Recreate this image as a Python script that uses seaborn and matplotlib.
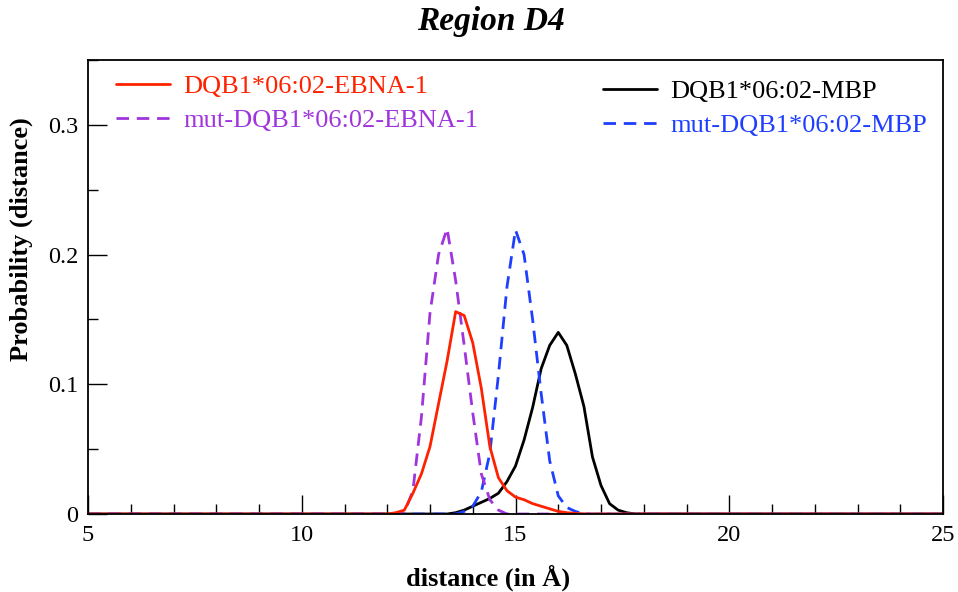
import matplotlib
matplotlib.use("Agg")
import matplotlib.pyplot as plt
import seaborn as sns
import pandas as pd
from matplotlib.ticker import MultipleLocator, FormatStrFormatter

# distance histogram bins (Å); end points carry the flat zero baseline
distance = [5.0,
            12.0, 12.2, 12.4, 12.6, 12.8, 13.0, 13.2, 13.4, 13.6, 13.8,
            14.0, 14.2, 14.4, 14.6, 14.8, 15.0, 15.2, 15.4, 15.6, 15.8,
            16.0, 16.2, 16.4, 16.6, 16.8, 17.0, 17.2, 17.4, 17.6, 17.8,
            25.0]

ebna = [0.0,
        0.0, 0.001, 0.003, 0.016, 0.031, 0.052, 0.085, 0.118, 0.156, 0.153,
        0.132, 0.097, 0.052, 0.028, 0.018, 0.013, 0.011, 0.008, 0.006, 0.004,
        0.002, 0.001, 0.0005, 0.0, 0.0, 0.0, 0.0, 0.0, 0.0, 0.0,
        0.0]

mut_ebna = [0.0,
            0.0, 0.0, 0.001, 0.018, 0.075, 0.155, 0.200, 0.220, 0.180, 0.130,
            0.078, 0.031, 0.011, 0.003, 0.0, 0.0, 0.0, 0.0, 0.0, 0.0,
            0.0, 0.0, 0.0, 0.0, 0.0, 0.0, 0.0, 0.0, 0.0, 0.0,
            0.0]

mbp = [0.0,
       0.0, 0.0, 0.0, 0.0, 0.0, 0.0, 0.0, 0.0, 0.001, 0.003,
       0.006, 0.009, 0.012, 0.016, 0.025, 0.037, 0.057, 0.082, 0.112, 0.130,
       0.140, 0.130, 0.108, 0.083, 0.044, 0.022, 0.008, 0.003, 0.001, 0.0,
       0.0]

mut_mbp = [0.0,
           0.0, 0.0, 0.0, 0.0, 0.0, 0.0, 0.0, 0.0, 0.0, 0.002,
           0.006, 0.017, 0.047, 0.107, 0.175, 0.219, 0.200, 0.150, 0.093, 0.041,
           0.014, 0.005, 0.002, 0.0, 0.0, 0.0, 0.0, 0.0, 0.0, 0.0,
           0.0]

labels = ["DQB1*06:02-EBNA-1", "mut-DQB1*06:02-EBNA-1",
          "DQB1*06:02-MBP", "mut-DQB1*06:02-MBP"]
colors = ["#ff2200", "#a035dd", "#000000", "#1f3fff"]

sns.set_theme(style="white")
plt.rcParams["font.family"] = ["Liberation Serif", "DejaVu Serif"]
plt.rcParams["text.color"] = "black"
plt.rcParams["axes.labelcolor"] = "black"

fig = plt.figure(figsize=(9.58, 5.92), dpi=100)
ax = fig.add_axes([88 / 958, 1 - 514 / 592, 855 / 958, 454 / 592])

series = {labels[0]: ebna, labels[1]: mut_ebna, labels[2]: mbp, labels[3]: mut_mbp}
styles = {labels[0]: "", labels[1]: (4.5, 2.8), labels[2]: "", labels[3]: (4.5, 2.8)}
order = [labels[2], labels[3], labels[1], labels[0]]
lines = {}
for name in order:
    df = pd.DataFrame({"distance": distance, "prob": series[name]})
    sns.lineplot(data=df, x="distance", y="prob", ax=ax, sort=False,
                 color=colors[labels.index(name)], linewidth=2.0,
                 dashes=False, legend=False)
    ln = ax.get_lines()[-1]
    if styles[name]:
        ln.set_dashes(styles[name])
    lines[name] = ln

ax.set_xlim(5, 25)
ax.set_ylim(0, 0.35)
ax.xaxis.set_major_locator(MultipleLocator(5))
ax.xaxis.set_minor_locator(MultipleLocator(1))
ax.yaxis.set_major_locator(MultipleLocator(0.1))
ax.yaxis.set_minor_locator(MultipleLocator(0.05))
ax.yaxis.set_major_formatter(FormatStrFormatter("%g"))
ax.xaxis.set_major_formatter(FormatStrFormatter("%g"))
ax.tick_params(which="both", direction="in", colors="black", labelsize=17.5,
               bottom=True, left=True, top=False, right=False)
ax.tick_params(which="major", length=14, width=1.0)
ax.tick_params(which="minor", length=7, width=1.0)
ax.tick_params(axis="x", pad=8)
ax.tick_params(axis="y", pad=7)
for sp in ax.spines.values():
    sp.set_color("black")
    sp.set_linewidth(1.3)

ax.set_xlabel("distance (in Å)", fontsize=19, fontweight="bold")
ax.set_ylabel("Probability (distance)", fontsize=19, fontweight="bold")
ax.xaxis.set_label_coords(0.468, -0.112)
ax.yaxis.set_label_coords(-0.064, 0.606)

fig.text(491 / 958, 1 - 30 / 592, "Region D4", ha="center", va="baseline",
         fontsize=24, fontweight="bold", fontstyle="italic")

common = dict(frameon=False, fontsize=19, handlelength=2.05, handletextpad=0.5,
              labelspacing=0.38, borderpad=0, borderaxespad=0,
              loc="upper left", labelcolor="linecolor")
leg1 = ax.legend([lines[labels[0]], lines[labels[1]]], labels[:2],
                 bbox_to_anchor=(0.0327, 0.967), **common)
ax.add_artist(leg1)
ax.legend([lines[labels[2]], lines[labels[3]]], labels[2:],
          bbox_to_anchor=(0.602, 0.956), **common)

fig.savefig("out.png", dpi=100)
